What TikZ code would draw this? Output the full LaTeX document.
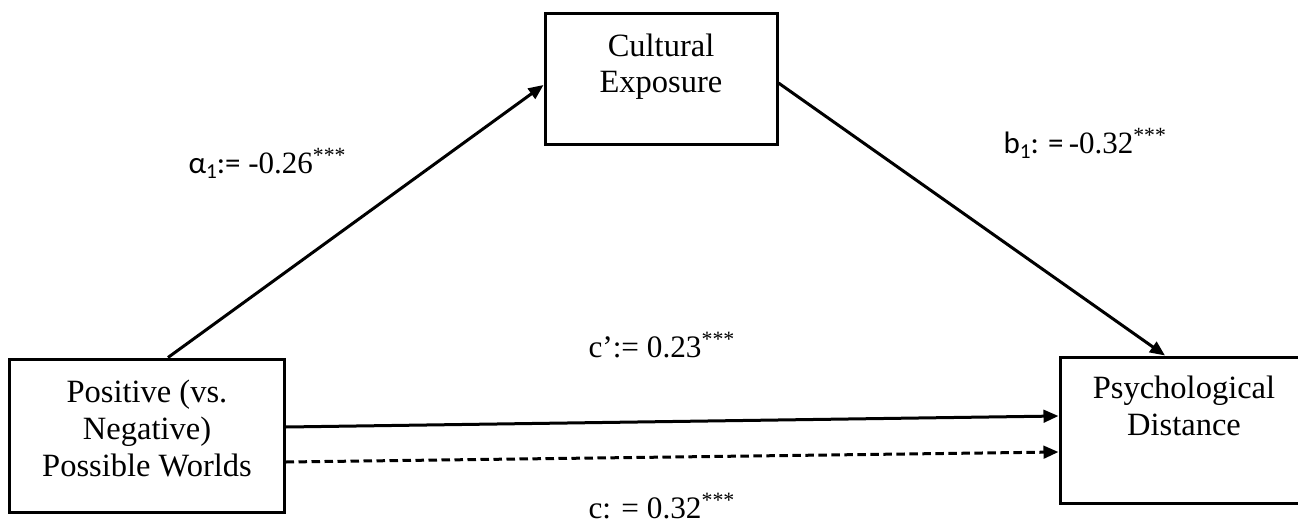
\documentclass[tikz,border=0pt]{standalone}
\usepackage{fontspec}
\setmainfont{Liberation Serif}
\newfontfamily\calib{Carlito}
\usetikzlibrary{arrows.meta}
\begin{document}
\begin{tikzpicture}[x=0.4pt,y=-0.4pt,
  box/.style={draw,line width=1.2pt,inner sep=0,fill=white},
  txt/.style={align=center,inner sep=0,font=\fontsize{13}{14.7}\selectfont},
  lab/.style={inner sep=0,font=\fontsize{12.5}{14}\selectfont},
  biglab/.style={inner sep=0,font=\fontsize{12.4}{15}\selectfont},
  arr/.style={line width=1.2pt,-{Triangle[length=6pt,width=5pt]}},
  darr/.style={arr,dash pattern=on 3.4pt off 1.8pt}]
\clip (0,0) rectangle (1298,527);
\node[box,minimum width=92.8pt,minimum height=52.4pt] (cult) at (661,78.5) {};
\node[box,minimum width=109.6pt,minimum height=61.2pt] (pos) at (147,435.5) {};
\node[box,minimum width=99.2pt,minimum height=58.4pt] (psy) at (1184,430) {};
\node[txt,anchor=north] (cultT) at (661,33) {Cultural\\Exposure};
\node[txt,anchor=north] (posT) at (147,379.5) {Positive (vs.\\Negative)\\Possible Worlds};
\node[txt,anchor=north] (psyT) at (1184,375.8) {Psychological\\Distance};
\draw[arr] ([xshift=8.4pt]pos.north) -- ([yshift=-2.6pt]cult.west);
\draw[arr] ([yshift=-1.8pt]cult.east) -- ([xshift=-7.6pt]psy.north);
\draw[arr] ([yshift=3.4pt]pos.east) -- ([yshift=5.6pt]psy.west);
\draw[darr] ([yshift=-10.6pt]pos.east) -- ([yshift=-8.8pt]psy.west);
\node[biglab,anchor=base west] (la) at (188,173) {{\calib α\raisebox{-0.35ex}{\fontsize{8.5}{9}\selectfont 1}:=} -0.26\textsuperscript{***}};
\node[biglab,anchor=base west] (lb) at (1003,153) {{\calib b\raisebox{-0.35ex}{\fontsize{8.5}{9}\selectfont 1}: =}\,-0.32\textsuperscript{***}};
\node[lab,anchor=base west] (lc1) at (588,357) {c’:= 0.23\textsuperscript{***}};
\node[lab,anchor=base west] (lc) at (588,518) {c: = 0.32\textsuperscript{***}};
\end{tikzpicture}
\end{document}
